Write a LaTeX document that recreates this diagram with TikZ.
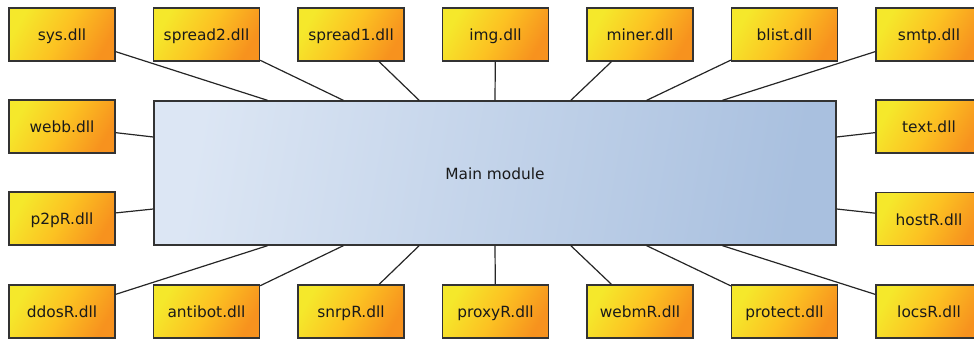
\documentclass[tikz,border=0pt]{standalone}
\usepackage{fontspec}
\setmainfont{DejaVu Sans}
\usetikzlibrary{calc}
\definecolor{yel}{HTML}{F5E82B}
\definecolor{mid}{HTML}{FCC222}
\definecolor{org}{HTML}{F7921E}
\definecolor{blL}{HTML}{DCE6F4}
\definecolor{blR}{HTML}{A9C0DF}
\definecolor{edgecol}{HTML}{333333}
\definecolor{txt}{HTML}{1A1A1A}
\begin{document}
\begin{tikzpicture}[x=1pt,y=-1pt,
  every node/.style={font=\fontsize{15.4}{18}\selectfont, text=txt, text height=13pt, text depth=1pt},
  dllbox/.style={draw=edgecol, line width=1.3pt, left color=yel, right color=org, middle color=mid, shading angle=60,
    minimum width=106pt, minimum height=53pt, inner sep=0pt},
  mainbox/.style={draw=edgecol, line width=1.3pt, left color=blL, right color=blR, shading angle=80,
    minimum width=682pt, minimum height=144pt, inner sep=0pt},
  conn/.style={draw=black!85, line width=1.2pt}]
\useasboundingbox (0,0) rectangle (974,338);
\node[mainbox] (main) at (495,173) {Main module};
% top row
\node[dllbox] (sys) at (62,34.5) {sys.dll};
\node[dllbox] (spread2) at (206.5,34.5) {spread2.dll};
\node[dllbox] (spread1) at (351,34.5) {spread1.dll};
\node[dllbox] (img) at (495.5,34.5) {img.dll};
\node[dllbox] (miner) at (640,34.5) {miner.dll};
\node[dllbox] (blist) at (784.5,34.5) {blist.dll};
\node[dllbox] (smtp) at (929,34.5) {smtp.dll};
% side rows
\node[dllbox] (webb) at (62,126.5) {webb.dll};
\node[dllbox] (p2pR) at (62,218.5) {p2pR.dll};
\node[dllbox] (text) at (929,126.5) {text.dll};
\node[dllbox] (hostR) at (929,219) {hostR.dll};
% bottom row
\node[dllbox] (ddosR) at (62,311.5) {ddosR.dll};
\node[dllbox] (antibot) at (206.5,311.5) {antibot.dll};
\node[dllbox] (snrpR) at (351,311.5) {snrpR.dll};
\node[dllbox] (proxyR) at (495.5,311.5) {proxyR.dll};
\node[dllbox] (webmR) at (640,311.5) {webmR.dll};
\node[dllbox] (protect) at (784.5,311.5) {protect.dll};
\node[dllbox] (locsR) at (929,311.5) {locsR.dll};
% connectors
\foreach \n/\k in {sys/-3, spread2/-2, spread1/-1, img/0, miner/1, blist/2, smtp/3}
  \draw[conn] ($(main.north)+(\k*75.8,0)$) -- (\n);
\foreach \n/\k in {ddosR/-3, antibot/-2, snrpR/-1, proxyR/0, webmR/1, protect/2, locsR/3}
  \draw[conn] ($(main.south)+(\k*75.8,0)$) -- (\n);
\draw[conn] ($(main.west)+(0,-36)$) -- (webb);
\draw[conn] ($(main.west)+(0,36)$) -- (p2pR);
\draw[conn] ($(main.east)+(0,-36)$) -- (text);
\draw[conn] ($(main.east)+(0,36)$) -- (hostR);
\end{tikzpicture}
\end{document}
